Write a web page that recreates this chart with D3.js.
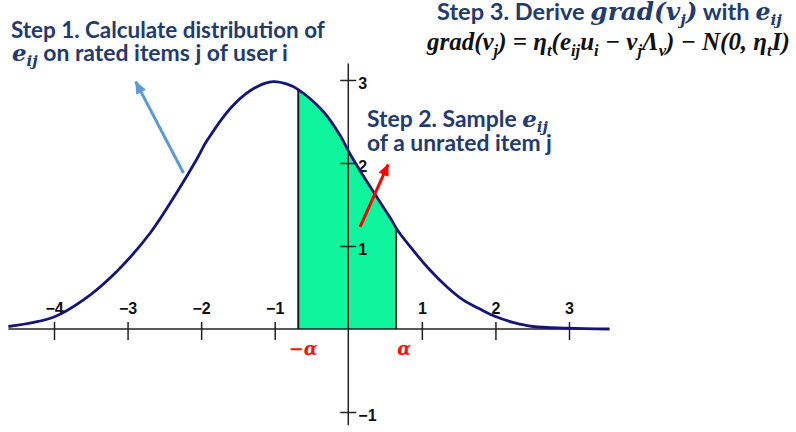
<!DOCTYPE html>
<html><head><meta charset="utf-8">
<script src="https://cdn.jsdelivr.net/npm/d3@7"></script>
<style>body{margin:0;background:#fff;} svg{display:block;}</style>
</head><body>
<svg id="c" width="796" height="432"></svg>
<script>
// ---- data ----
const curveX = [-4.62,-4.0,-3.6,-3.14,-2.69,-2.32,-2.05,-1.92,-1.56,-1.24,-1.02,-0.83,-0.69,-0.34,-0.11,0.03,0.30,0.57,0.67,0.88,1.11,1.35,1.56,1.79,2.0,2.24,2.51,2.98,3.55];
const curveY = [0.03,0.145,0.35,0.70,1.16,1.66,2.06,2.27,2.70,2.92,2.98,2.95,2.89,2.62,2.33,2.10,1.71,1.34,1.19,0.95,0.71,0.50,0.35,0.24,0.15,0.08,0.03,0.01,0.0];
const xTicks = [-4,-3,-2,-1,1,2,3];
const yTicks = [-1,1,2,3];
const yAxisExtent = [-1.16, 3.2];
const alphaBounds = [-0.68, 0.65];
const alphaLabels = ["\u2212\u03b1", "\u03b1"];
const blueArrow = {from:[-2.24,1.88], to:[-2.89,2.98]};
const redArrow = {from:[0.16,1.23], to:[0.54,1.98]};

const svg = d3.select("#c");
const x = d3.scaleLinear().domain([-4,3]).range([54,569]);
const y = d3.scaleLinear().domain([-1,3]).range([412,80]);
const pts = curveX.map((v,i)=>[v,curveY[i]]);
const NAVY = "#1f3b70";
const smooth = d3.curveCatmullRom.alpha(0.5);

const defs = svg.append("defs");
function marker(id,color,len,wid){
  defs.append("marker").attr("id",id).attr("viewBox",`0 0 ${len} ${wid}`)
    .attr("refX",len-1).attr("refY",wid/2).attr("markerUnits","userSpaceOnUse")
    .attr("markerWidth",len).attr("markerHeight",wid).attr("orient","auto")
    .append("path").attr("d",`M0,0L${len},${wid/2}L0,${wid}Z`).attr("fill",color);
}
marker("mb","#5b9bd5",13,11);
marker("mr","#ff0000",12,11);

// shaded region
const area = d3.area().x(d=>x(d[0])).y0(y(0)).y1(d=>y(d[1])).curve(smooth);
defs.append("clipPath").attr("id","band").append("rect")
  .attr("x",x(alphaBounds[0])).attr("y",0).attr("width",x(alphaBounds[1])-x(alphaBounds[0])).attr("height",y(0));
defs.append("clipPath").attr("id","under").append("path").attr("d",area(pts));
svg.append("path").attr("d",area(pts)).attr("fill","#0ff59e").attr("clip-path","url(#band)");
svg.append("g").attr("clip-path","url(#under)").selectAll("line").data(alphaBounds).join("line")
  .attr("x1",d=>x(d)).attr("x2",d=>x(d)).attr("y1",y(0)).attr("y2",0)
  .attr("stroke","#1a1a1a").attr("stroke-width",2);

// axes
const axisColor = "#222";
svg.append("line").attr("x1",x(curveX[0])).attr("x2",x(curveX[curveX.length-1]))
  .attr("y1",y(0)).attr("y2",y(0)).attr("stroke",axisColor).attr("stroke-width",1.5);
svg.append("line").attr("x1",x(0)).attr("x2",x(0)).attr("y1",y(yAxisExtent[1])).attr("y2",y(yAxisExtent[0]))
  .attr("stroke",axisColor).attr("stroke-width",1.5);

const tickFont = sel => sel.style("font-family","'Liberation Sans', Arial, sans-serif")
  .style("font-weight","bold").style("font-size","16px").attr("fill","#111");
const xa = svg.append("g").attr("transform",`translate(0,${y(0)})`)
  .call(d3.axisBottom(x).tickValues(xTicks).tickSize(0).tickFormat(d3.format("d")));
xa.select(".domain").remove();
xa.selectAll(".tick line").attr("y1",-7).attr("y2",11).attr("stroke",axisColor).attr("stroke-width",1.5);
xa.selectAll(".tick text").attr("y",-15).attr("dy",0).call(tickFont);

const ya = svg.append("g").attr("transform",`translate(${x(0)},0)`)
  .call(d3.axisRight(y).tickValues(yTicks).tickSize(0).tickFormat(d3.format("d")));
ya.select(".domain").remove();
ya.selectAll(".tick line").attr("x1",-8).attr("x2",8).attr("stroke",axisColor).attr("stroke-width",1.5);
ya.selectAll(".tick text").attr("x",10).attr("dy","0.5em").call(tickFont);

// curve
const line = d3.line().x(d=>x(d[0])).y(d=>y(d[1])).curve(smooth);
svg.append("path").attr("d",line(pts)).attr("fill","none").attr("stroke","#14147a").attr("stroke-width",2.8);

// alpha labels
svg.selectAll(".al").data(alphaBounds).join("text").attr("class","al")
  .attr("x",d=>x(d)+ (d<0? 5: 8)).attr("y",355).attr("text-anchor","middle")
  .attr("font-family","'DejaVu Serif', serif").attr("font-style","italic").attr("font-weight","bold")
  .attr("font-size",18).attr("fill","#ff1010").text((d,i)=>alphaLabels[i]);

// arrows
function arrow(a,color,m){
  svg.append("line").attr("x1",x(a.from[0])).attr("y1",y(a.from[1])).attr("x2",x(a.to[0])).attr("y2",y(a.to[1]))
    .attr("stroke",color).attr("stroke-width",3).attr("marker-end",`url(#${m})`);
}
arrow(blueArrow,"#5b9bd5","mb");
arrow(redArrow,"#ff0000","mr");

// text blocks
const SANS = "Lato, 'Open Sans', sans-serif";
const SERIF = "'DejaVu Serif', serif";
const TSERIF = "'Liberation Serif', 'Times New Roman', serif";
function block(px,py,width,parts){
  const g = svg.append("g");
  const t = g.append("text").attr("x",0).attr("y",0);
  parts.forEach(p=>{
    const s = t.append("tspan").text(p.t)
      .attr("font-family",p.f||SANS).attr("font-weight",p.w||"bold")
      .attr("font-style",p.i?"italic":"normal").attr("font-size",p.s||20)
      .attr("fill",p.c||NAVY);
    if(p.dy) s.attr("dy",p.dy);
  });
  const w = t.node().getComputedTextLength();
  g.attr("transform",`translate(${px},${py}) scale(${width/w})`);
}
const E = {t:"e",f:SERIF,i:true,w:"bold",s:20};
const sub = (t)=>({t,f:SERIF,i:true,s:13,dy:4,w:"bold"});
block(11,38,314,[{t:"Step 1. Calculate distribution of"}]);
block(12,61,276,[E,sub("ij"),{t:" on rated items j of user i",dy:-4}]);
block(437,20,345,[{t:"Step 3. Derive "},{t:"grad(v",f:SERIF,i:true,w:"bold",s:21},sub("j"),
  {t:")",f:SERIF,i:true,w:"bold",s:21,dy:-4},{t:"  with  "},E,sub("ij")]);
const K="#111";
const B=(t)=>({t,f:TSERIF,i:true,w:"bold",s:21,c:K});
const Bs=(t)=>({t,f:TSERIF,i:true,w:"bold",s:14,c:K,dy:5});
const Br=(t)=>({t,f:TSERIF,i:true,w:"bold",s:21,c:K,dy:-5});
block(427,50,363,[B("grad(v"),Bs("j"),Br(") = \u03b7"),Bs("t"),Br("(e"),Bs("ij"),Br("u"),Bs("i"),Br(" \u2212 v"),Bs("j"),
  Br("\u039b"),Bs("v"),Br(") \u2212 N(0, \u03b7"),Bs("t"),Br("I)")]);
block(367,127,181,[{t:"Step 2. Sample "},E,sub("ij")]);
block(367,151,185,[{t:"of a unrated item j"}]);
</script>
</body></html>
